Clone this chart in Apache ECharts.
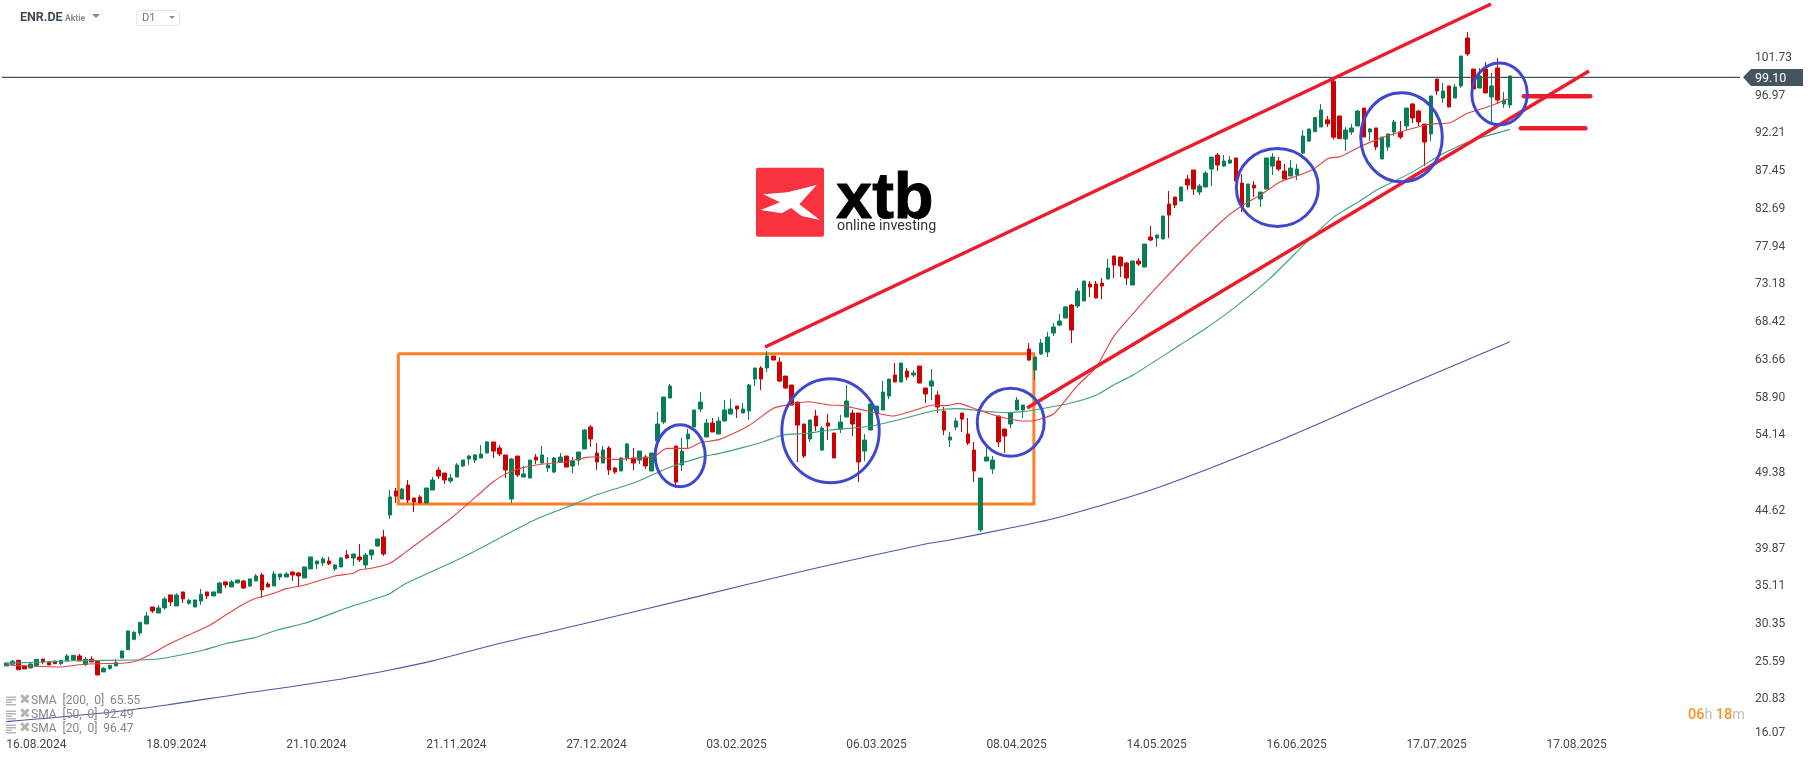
<!DOCTYPE html>
<html><head><meta charset="utf-8">
<style>html,body{margin:0;padding:0;background:#fff}#c{width:1815px;height:761px}</style>
<script src="https://cdn.jsdelivr.net/npm/echarts@6/dist/echarts.min.js"></script>
</head><body><div id="c"></div>
<script>
const opens=[24.40,24.61,25.12,24.40,24.14,24.44,25.28,24.86,24.99,24.69,
25.03,25.16,25.67,24.57,25.28,24.99,23.64,24.10,24.40,25.41,
26.47,27.78,28.58,29.73,31.88,31.12,31.76,33.41,32.01,33.79,
32.35,31.88,32.64,33.79,33.28,33.66,35.06,34.42,34.93,35.18,
34.55,35.18,35.94,34.80,34.55,35.69,35.69,36.33,36.20,35.56,
36.71,37.34,37.47,37.72,36.71,36.96,38.48,38.10,38.23,37.21,
38.48,39.62,40.77,43.56,46.60,45.58,47.36,45.71,45.84,45.08,
46.72,49.26,48.88,47.87,48.37,49.77,50.66,50.53,50.79,51.42,
52.82,52.06,51.17,45.58,51.04,48.37,48.25,50.91,50.15,49.52,
49.01,50.28,51.04,49.77,50.53,51.93,54.72,51.42,50.15,52.06,
49.52,49.14,50.79,50.79,50.53,50.91,49.14,52.94,55.35,58.40,
52.31,49.90,53.20,54.72,57.00,53.45,55.23,53.83,55.48,56.37,
57.38,56.50,56.75,60.81,62.21,62.21,63.73,62.97,61.19,60.05,
57.89,55.10,53.20,56.12,51.80,55.23,53.96,54.47,55.99,56.50,
56.50,51.67,54.34,56.37,56.88,58.65,61.32,60.43,61.83,61.32,
62.46,59.67,59.92,58.78,56.75,53.07,54.72,56.50,53.83,51.80,
41.65,50.40,49.39,56.12,54.47,55.10,56.88,56.88,64.62,61.95,
63.98,64.24,66.65,67.66,68.55,70.20,70.08,70.71,72.87,72.87,
72.99,73.50,76.42,76.29,75.53,72.74,75.79,75.02,78.83,78.70,
78.58,83.02,83.91,83.40,86.19,87.33,84.54,85.18,87.46,89.24,
87.84,88.22,88.86,85.68,82.64,85.43,83.65,84.92,87.84,88.48,
87.21,86.57,86.70,89.49,91.01,92.20,92.80,93.70,98.60,94.19,
91.27,92.16,92.92,95.20,92.16,92.67,88.73,90.26,92.16,92.16,
92.92,95.71,94.82,93.17,91.91,98.88,96.47,98.00,96.47,98.00,
104.09,100.15,97.74,100.15,96.60,100.28,95.71,95.59];
const closes=[24.78,24.99,23.93,24.02,24.65,25.24,24.90,24.52,24.69,25.12,
25.67,25.75,25.03,25.24,24.90,23.25,24.10,24.48,24.82,26.30,
28.84,28.67,29.94,30.74,31.38,31.76,32.90,32.52,33.41,32.90,
32.73,32.77,33.49,33.28,33.79,34.93,34.68,35.06,35.31,34.29,
35.44,35.82,34.04,34.42,36.07,36.07,36.07,35.94,35.82,36.96,
38.23,37.72,37.97,37.34,37.21,38.10,38.10,38.61,37.85,38.48,
39.12,40.51,38.61,45.84,45.96,46.85,45.46,45.20,45.08,46.98,
47.99,48.50,47.99,48.25,49.90,50.53,51.04,51.17,51.29,52.82,
51.67,51.29,49.26,50.66,48.63,48.76,50.53,50.53,51.17,49.90,
50.79,50.91,49.64,50.40,51.55,54.34,53.20,50.28,51.80,49.26,
49.01,50.79,52.56,50.15,51.67,49.77,51.42,55.10,58.53,59.92,
47.74,51.67,53.83,56.88,57.89,55.23,54.09,55.48,56.88,57.00,
57.00,57.00,60.05,62.21,60.81,63.73,63.22,60.56,59.67,57.51,
54.97,51.04,55.61,54.85,54.59,54.85,50.79,55.35,58.02,55.10,
50.28,53.07,57.64,57.38,59.16,60.81,60.43,62.84,61.06,61.57,
60.30,58.91,60.56,57.26,54.34,53.45,55.48,55.73,52.69,49.14,
48.25,50.91,50.53,52.82,53.58,56.50,58.15,57.51,63.22,63.60,
65.38,66.14,67.41,68.17,69.95,67.03,71.98,73.25,72.49,71.09,
72.61,74.90,75.28,75.15,73.63,75.79,75.41,77.94,78.45,79.09,
81.50,81.62,82.89,85.18,85.43,84.92,85.30,86.95,88.98,87.97,
88.48,88.60,85.94,82.64,85.56,85.05,84.54,88.86,88.98,87.46,
86.19,87.59,87.46,91.65,92.54,94.00,94.95,93.20,91.50,91.31,
92.41,92.67,94.82,91.52,92.54,90.26,91.52,91.91,93.43,91.52,
95.20,93.94,93.43,90.89,96.73,97.36,97.36,95.33,97.87,101.80,
102.06,97.62,99.27,97.11,98.00,96.22,96.22,99.27];
const lows=[24.40,24.61,23.93,24.02,24.14,24.44,24.61,24.52,24.69,24.52,
25.03,25.03,25.03,24.40,24.90,23.25,23.64,23.89,24.40,25.41,
26.47,27.65,28.25,29.73,31.12,31.12,31.55,32.01,32.01,32.39,
32.18,31.88,32.14,32.90,33.28,33.66,34.29,34.42,34.93,34.17,
34.42,35.18,33.03,34.42,34.55,35.31,35.69,35.18,34.42,35.56,
36.71,36.71,37.09,37.21,36.45,36.96,37.97,37.09,37.59,36.71,
37.85,39.50,38.36,43.05,45.08,45.58,45.08,43.93,45.08,45.08,
46.72,48.12,47.49,47.61,48.37,49.64,49.90,50.15,50.79,51.42,
50.79,51.04,48.25,45.08,48.37,48.37,48.25,50.02,50.15,49.01,
48.88,50.28,49.64,48.88,49.90,51.93,52.18,49.26,50.15,48.63,
48.76,49.14,50.40,49.26,50.02,49.39,49.14,52.94,55.10,58.40,
46.98,49.14,52.06,54.72,56.62,53.45,54.09,53.83,55.48,56.37,
55.86,56.50,55.61,59.92,59.41,61.70,63.22,60.43,59.54,57.51,
50.28,50.79,52.82,54.21,51.67,53.07,50.79,53.96,55.99,53.58,
47.74,50.40,54.34,56.37,56.88,58.27,60.43,60.43,60.68,61.06,
60.30,57.77,58.15,56.50,53.70,52.18,54.34,54.09,52.43,47.74,
41.40,50.40,48.76,52.18,51.42,54.59,56.88,55.86,63.10,60.68,
63.86,63.60,66.27,67.54,68.55,65.38,69.82,70.71,71.22,71.09,
70.96,73.50,73.63,73.76,72.74,72.74,75.15,75.02,78.32,77.56,
78.58,78.70,82.51,83.40,84.80,84.16,84.16,85.18,85.30,87.21,
87.71,88.10,85.94,82.00,82.64,83.91,82.64,84.92,86.70,87.21,
86.19,86.57,86.06,89.36,90.89,92.20,92.80,92.80,91.20,91.31,
89.75,91.78,92.92,91.52,91.02,89.87,88.73,89.75,91.65,91.27,
92.41,93.30,92.92,87.84,91.02,96.85,95.84,95.33,96.47,97.74,
101.80,97.62,97.74,97.11,93.43,95.71,95.20,95.20];
const highs=[24.78,25.16,25.12,24.40,24.78,25.24,25.28,24.99,25.12,25.12,
25.92,25.75,25.92,25.54,25.62,24.99,24.23,24.48,25.24,26.30,
28.84,28.80,29.94,31.25,31.88,32.10,33.15,33.41,33.62,33.79,
32.90,32.77,34.17,33.79,33.79,35.06,35.06,35.31,35.31,35.31,
35.44,36.07,36.20,35.06,36.45,36.07,36.33,36.33,36.33,36.96,
38.23,37.72,38.23,38.23,37.34,38.23,39.12,38.61,39.88,38.74,
39.12,40.51,41.66,46.73,46.98,46.98,47.99,45.71,46.09,46.98,
48.37,49.64,48.88,48.76,50.15,50.53,51.17,51.29,52.43,52.94,
52.82,52.43,51.17,50.79,51.04,49.77,50.53,51.29,52.31,50.91,
50.91,51.42,51.04,50.91,51.55,54.47,54.97,52.69,52.31,52.31,
49.64,50.91,52.69,52.06,51.67,51.17,51.42,56.62,58.53,60.18,
52.31,53.32,54.47,56.88,59.16,55.73,55.86,55.99,58.15,58.27,
57.38,57.77,60.18,62.21,62.46,64.36,63.73,63.60,61.19,60.05,
57.89,55.10,55.61,56.88,54.85,56.37,53.96,56.24,60.05,56.88,
56.50,53.83,57.64,57.38,60.56,60.81,62.84,62.84,62.21,61.95,
62.46,59.67,62.08,59.29,57.26,54.09,55.86,56.50,55.86,52.82,
48.25,52.18,51.04,56.12,54.47,56.50,58.53,57.51,65.38,63.60,
65.89,66.78,67.92,69.06,70.08,70.33,72.36,73.25,73.25,73.25,
73.63,76.04,76.42,76.29,75.66,75.79,76.17,77.94,80.23,79.09,
81.50,84.67,83.91,85.18,86.70,87.33,85.56,87.21,88.98,89.49,
89.24,89.11,88.86,86.83,85.56,85.94,84.54,88.86,89.49,88.98,
88.10,88.60,88.10,92.41,92.54,94.00,95.70,94.20,99.10,94.19,
92.79,93.17,94.95,95.20,92.67,92.67,91.52,91.91,93.68,93.56,
95.20,95.84,94.95,93.17,96.73,98.88,98.38,98.00,98.25,101.80,
104.85,100.15,100.28,101.04,99.65,101.55,97.24,99.27];

const sma20=[[0,24.52],[9,24.27],[13,24.65],[19.5,24.78],[21.5,25.07],[23.5,25.79],[27,27.27],[33.5,29.60],[36.5,31.08],[39,32.26],[41,32.98],[44,33.62],[46,34.21],[49,34.68],[54,35.82],[57,36.16],[58,36.58],[60,36.79],[63,37.42],[65.5,38.78],[72.9,43.04],[75.9,45.03],[80,47.78],[81.9,48.71],[84.4,49.47],[88.2,50.02],[92.1,50.32],[95.3,50.87],[97,50.95],[99.7,50.62],[103,50.74],[106.3,50.95],[108.5,52.01],[112,52.01],[114,52.73],[117.2,53.15],[121.9,54.85],[126,57.09],[128.2,57.51],[131.8,57.93],[135.3,57.51],[137.5,57.43],[140.2,56.96],[145.7,56.12],[149,56.79],[152.3,57.51],[154.5,57.43],[156.4,57.72],[159.4,56.96],[162.7,56.12],[167.1,55.48],[168.7,55.52],[172,56.37],[175.8,59.84],[179.1,62.38],[181.9,66.19],[186.2,70.08],[190.1,73.38],[195.6,77.82],[200.5,81.41],[203.2,82.9],[206,84.16],[209.3,85.85],[212,86.57],[214.7,87.42],[217.2,88.82],[219.1,89.03],[222.4,90.3],[225.7,91.35],[230.1,92.41],[233.9,93.17],[237.2,93.34],[240,94.53],[243.2,95.29],[247,96.47]];
const sma50=[[0,24.73],[11,25.05],[21.5,25.16],[25,25.28],[28.7,25.79],[32.5,26.43],[35.8,27.19],[40.8,27.99],[44.5,28.96],[49,29.81],[56.6,31.93],[62.8,33.49],[65.5,34.80],[75,38.2],[87.1,43.04],[93.7,45.03],[96.4,45.96],[103.6,47.78],[108.5,49.47],[114,50.87],[117.2,51.38],[121.1,52.14],[124.4,52.86],[127.6,53.70],[131.5,53.92],[135.3,54.34],[141.3,54.76],[144.6,55.27],[149,56.12],[152.3,56.79],[156.1,57.05],[160,56.79],[163.8,56.54],[167,56.67],[169.8,57.0],[174.7,57.73],[179.1,58.79],[181.9,60.06],[185.1,61.32],[192.8,65.13],[196.9,67.16],[201.6,69.78],[207.6,73.59],[213.7,78.24],[218,81.33],[222.4,83.44],[225.4,84.93],[230.6,86.91],[236.1,89.45],[241,91.14],[247,92.49]];
const sma200=[[0,17.33],[15.4,18.39],[26.4,19.45],[37.3,20.72],[54,22.62],[63,23.89],[70.2,25.07],[81.1,27.27],[94,29.6],[113,33.1],[132,36.64],[151,39.87],[155,40.38],[164.9,41.9],[173.1,43.3],[189,46.98],[208,52.65],[227,59.0],[247,65.55]];

const upperTrend=[[124.65,64.87],[243.9,108.40]];
const lowerTrend=[[167.7,57.13],[260,99.90]];
const levelA=[[249.3,96.69],[260.2,96.69]];
const levelB=[[248.8,92.63],[259.4,92.63]];
const rangeBox=[[64.4,64.02],[168.8,64.02],[168.8,44.95],[64.4,44.95],[64.4,64.02]];
const circles=[[110.7,51.08,4.11,3.93],[135.4,54.25,8.0,6.6],[165,55.32,5.5,4.31],[208.8,85.13,6.74,4.95],[229.2,91.5,6.7,5.65],[245.3,97.0,4.55,3.93]];

const priceTicks=[101.73,96.97,92.21,87.45,82.69,77.94,73.18,68.42,63.66,58.90,54.14,49.38,44.62,39.87,35.11,30.35,25.59,20.83,16.07];
const dateTickIndex=[0,23,46,69,92,115,138,161,184,207,230,253];
const dateTickLabels=['16.08.2024','18.09.2024','21.10.2024','21.11.2024','27.12.2024','03.02.2025','06.03.2025','08.04.2025','14.05.2025','16.06.2025','17.07.2025','17.08.2025'];
const lastPrice=99.10;
const legendRows=['SMA  [200,  0]  65.55','SMA  [50,  0]  92.49','SMA  [20,  0]  96.47'];

// readings above were taken with a slightly rough axis calibration; this corrects them about the last price
const cal=v=>lastPrice+(v-lastPrice)*0.99369;
const calPts=a=>a.map(p=>[p[0],cal(p[1])]);

const F='Roboto, sans-serif';
const candleData=opens.map((o,i)=>[i,cal(o),cal(closes[i]),cal(lows[i]),cal(highs[i])]);
const lineS=(data,color,width,z,cap,smooth)=>({type:'line',data,symbol:'none',silent:true,clip:false,z,smooth:smooth||false,
  lineStyle:{color,width,cap:cap||'butt',join:'miter'},animation:false});

const legendG=[];
legendRows.forEach((t,i)=>{
  const y=701+i*14;
  [-4,-1.5,1,3.5].forEach((d,k)=>legendG.push({type:'rect',shape:{x:6,y:y+d-0.5,width:k==2?6:10,height:1.5},style:{fill:'#b4b4b4'},z:50}));
  legendG.push({type:'text',x:19,y:y-8,style:{text:'✖',font:'14px "DejaVu Sans"',fill:'#b4b4b4'},z:50});
  legendG.push({type:'text',x:31,y:y-6,style:{text:t,font:'12px '+F,fill:'#858585'},z:50});
});
const logoX=[[100,133],[172,127],[260,105],[208,163],[270,210],[215,198],[183,174],[155,190],[92,180],[150,157]].map(p=>[730+p[0]/3,150+p[1]/3]);

const chart=echarts.init(document.getElementById('c'),null,{renderer:'canvas'});
chart.setOption({
  animation:false,backgroundColor:'#fff',
  grid:{left:0,top:0,width:1740,height:737,containLabel:false},
  xAxis:{type:'value',min:-1.035,max:284.8,axisLine:{show:false},axisTick:{show:false},splitLine:{show:false},
    axisLabel:{customValues:dateTickIndex,align:'left',margin:2,fontFamily:F,fontSize:12,color:'#424a50',
      formatter:v=>dateTickLabels[dateTickIndex.indexOf(v)]||''}},
  yAxis:{type:'value',position:'right',min:15.91,max:108.85,axisLine:{show:false},axisTick:{show:false},splitLine:{show:false},
    axisLabel:{customValues:priceTicks,margin:15,fontFamily:F,fontSize:12,color:'#424a50',padding:[3,0,0,0],
      formatter:v=>v===16.07?'{b|16.07}':v.toFixed(2),
      rich:{b:{fontFamily:F,fontSize:12,color:'#424a50',padding:[0,0,8,0]}}}},
  series:[
    lineS(calPts(rangeBox),'#ff7f27',3,1),
    {type:'candlestick',data:candleData,encode:{x:0,y:[1,2,3,4]},barWidth:4,z:3,silent:true,clip:false,
      itemStyle:{color:'#067f57',color0:'#cc0000',borderColor:'#067f57',borderColor0:'#cc0000',borderWidth:1}},
    lineS(calPts(sma200),'#4a57ab',1.1,4,null,0.3),
    lineS(calPts(sma50),'#3f9f80',1.1,4,null,0.2),
    lineS(calPts(sma20),'#e04545',1.1,4,null,0.2),
    lineS([[-0.7,lastPrice],[284.8,lastPrice]],'#46535c',1.2,4),
    lineS(calPts(upperTrend),'#ed1c2c',3.5,6),
    lineS(calPts(lowerTrend),'#ed1c2c',3.5,6),
    lineS(calPts(levelA),'#ed1c2c',4.5,6,'round'),
    lineS(calPts(levelB),'#ed1c2c',4.5,6,'round'),
    {type:'custom',data:circles.map(c=>[c[0],cal(c[1]),c[2],c[3]*0.99369]),z:7,silent:true,clip:false,encode:{x:0,y:1},
      renderItem:(p,api)=>{
        const c=api.coord([api.value(0),api.value(1)]);
        const s=api.size([api.value(2),api.value(3)]);
        return {type:'ellipse',shape:{cx:c[0],cy:c[1],rx:s[0],ry:s[1]},style:{fill:null,stroke:'#3f48cc',lineWidth:3}};
      }}
  ],
  graphic:[
    {type:'text',x:20,y:11,style:{text:'ENR.DE',font:'bold 12.5px '+F,fill:'#3f4c55'}},
    {type:'text',x:65,y:14,style:{text:'Aktie',font:'bold 8.5px '+F,fill:'#8c8c8c'}},
    {type:'polygon',shape:{points:[[92,14],[100,14],[96,18]]},style:{fill:'#8c8c8c'}},
    {type:'rect',shape:{x:136.5,y:10.5,width:43,height:15,r:2},style:{fill:'#fff',stroke:'#e6e6e6',lineWidth:1}},
    {type:'text',x:142,y:13,style:{text:'D1',font:'11px '+F,fill:'#777'}},
    {type:'polygon',shape:{points:[[169,16],[175,16],[172,19]]},style:{fill:'#8c8c8c'}},
    {type:'rect',shape:{x:756,y:167.7,width:68,height:69,r:2},style:{fill:'#f8323f'},z:8},
    {type:'polygon',shape:{points:logoX},style:{fill:'#fff'},z:9},
    {type:'text',x:836,y:233,style:{text:'xtb',font:'bold 65px "Liberation Sans"',fill:'#000',stroke:'#000',lineWidth:1,verticalAlign:'bottom'},z:8},
    {type:'text',x:837,y:219,style:{text:'online investing',font:'14.3px '+F,fill:'#333'},z:8},
    {type:'polygon',shape:{points:[[1743,77.3],[1751,69],[1803,69],[1803,86],[1751,86]]},style:{fill:'#455560'},z:9},
    {type:'text',x:1755,y:72,style:{text:'99.10',font:'12.5px '+F,fill:'#fff'},z:10},
    {type:'text',x:1688,y:708,style:{rich:{a:{fill:'#f7931e',font:'500 14.5px '+F},b:{fill:'#c0c0c0',font:'14.5px '+F}},text:'{a|06}{b|h} {a|18}{b|m}'},z:10},
    ...legendG
  ]
});
</script></body></html>
